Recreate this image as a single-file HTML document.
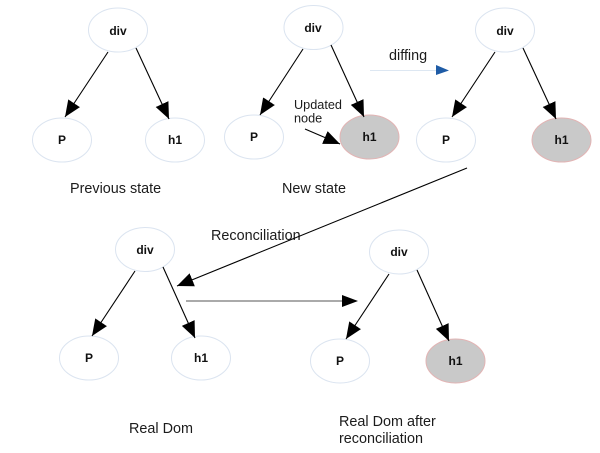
<!DOCTYPE html>
<html>
<head>
<meta charset="utf-8">
<style>
html,body{margin:0;padding:0;background:#fff;width:600px;height:453px;overflow:hidden}
svg{display:block;filter:blur(0.3px)}
text{font-family:"Liberation Sans",sans-serif;fill:#1c1c1c}
.n{font-size:12px;font-weight:bold;text-anchor:middle;fill:#111}
.l{font-size:14.4px}
.s{font-size:12.7px}
.e{fill:#fff;stroke:#dbe4f0;stroke-width:1}
.g{fill:#c9c9c9;stroke:#e2b4b4;stroke-width:1}
.c{stroke:#000;stroke-width:1.1;fill:none;marker-end:url(#a)}
</style>
</head>
<body>
<svg width="600" height="453" viewBox="0 0 600 453" xmlns="http://www.w3.org/2000/svg">
<defs>
<marker id="a" markerUnits="userSpaceOnUse" markerWidth="18" markerHeight="16" refX="16.500" refY="8" orient="auto">
<path d="M0 1L16.500 8L0 15Z" fill="#000"/>
</marker>
</defs>

<!-- Previous state -->
<ellipse class="e" cx="118" cy="30" rx="29.500" ry="22"/>
<ellipse class="e" cx="62" cy="140" rx="29.500" ry="22"/>
<ellipse class="e" cx="175" cy="140" rx="29.500" ry="22"/>
<line class="c" x1="108" y1="52" x2="65" y2="117"/>
<line class="c" x1="136" y1="48" x2="169" y2="119"/>
<text class="n" x="118" y="35">div</text>
<text class="n" x="62" y="144">P</text>
<text class="n" x="175" y="144">h1</text>
<text class="l" x="70" y="193">Previous state</text>

<!-- New state -->
<ellipse class="e" cx="313.500" cy="27.500" rx="29.500" ry="22"/>
<ellipse class="e" cx="254" cy="137" rx="29.500" ry="22"/>
<ellipse class="g" cx="369.500" cy="137" rx="29.500" ry="22"/>
<line class="c" x1="303" y1="49" x2="260" y2="115"/>
<line class="c" x1="331" y1="45" x2="364" y2="117"/>
<line class="c" x1="305" y1="129" x2="340" y2="144"/>
<text class="n" x="313" y="32">div</text>
<text class="n" x="254" y="141">P</text>
<text class="n" x="369.500" y="141">h1</text>
<text class="s" x="294" y="109">Updated</text>
<text class="s" x="294" y="122.500">node</text>
<text class="l" x="282" y="193">New state</text>

<!-- diffing -->
<line x1="370" y1="70.500" x2="437" y2="70.500" stroke="#dde7f2" stroke-width="1"/>
<path d="M436 65L449 70.500L436 75Z" fill="#1f5ca6"/>
<text class="l" x="389" y="60">diffing</text>

<!-- After diffing -->
<ellipse class="e" cx="505" cy="30" rx="29.500" ry="22"/>
<ellipse class="e" cx="446" cy="140" rx="29.500" ry="22"/>
<ellipse class="g" cx="561.500" cy="140" rx="29.500" ry="22"/>
<line class="c" x1="495" y1="52" x2="452" y2="117"/>
<line class="c" x1="523" y1="48" x2="556" y2="119"/>
<text class="n" x="505" y="35">div</text>
<text class="n" x="446" y="144">P</text>
<text class="n" x="561.500" y="144">h1</text>

<!-- Reconciliation -->
<text class="l" x="211" y="240">Reconciliation</text>
<line class="c" x1="467" y1="168" x2="177" y2="286"/>

<!-- Real Dom -->
<ellipse class="e" cx="145" cy="249.500" rx="29.500" ry="22"/>
<ellipse class="e" cx="89" cy="358" rx="29.500" ry="22"/>
<ellipse class="e" cx="201" cy="358" rx="29.500" ry="22"/>
<line class="c" x1="135" y1="271" x2="92" y2="336"/>
<line class="c" x1="163" y1="267" x2="195" y2="338"/>
<text class="n" x="145" y="254">div</text>
<text class="n" x="89" y="362">P</text>
<text class="n" x="201" y="362">h1</text>
<text class="l" x="129" y="433">Real Dom</text>

<!-- Horizontal arrow -->
<line x1="186" y1="301" x2="345" y2="301" stroke="#777" stroke-width="1.200"/>
<path d="M342 295L358 301L342 307Z" fill="#000"/>

<!-- Real Dom after -->
<ellipse class="e" cx="399" cy="252" rx="29.500" ry="22"/>
<ellipse class="e" cx="340" cy="361" rx="29.500" ry="22"/>
<ellipse class="g" cx="455.500" cy="361" rx="29.500" ry="22"/>
<line class="c" x1="389" y1="274" x2="346" y2="339"/>
<line class="c" x1="417" y1="270" x2="449" y2="341"/>
<text class="n" x="399" y="256">div</text>
<text class="n" x="340" y="365">P</text>
<text class="n" x="455.500" y="365">h1</text>
<text class="l" x="339" y="426">Real Dom after</text>
<text class="l" x="339" y="443">reconciliation</text>
</svg>
</body>
</html>
